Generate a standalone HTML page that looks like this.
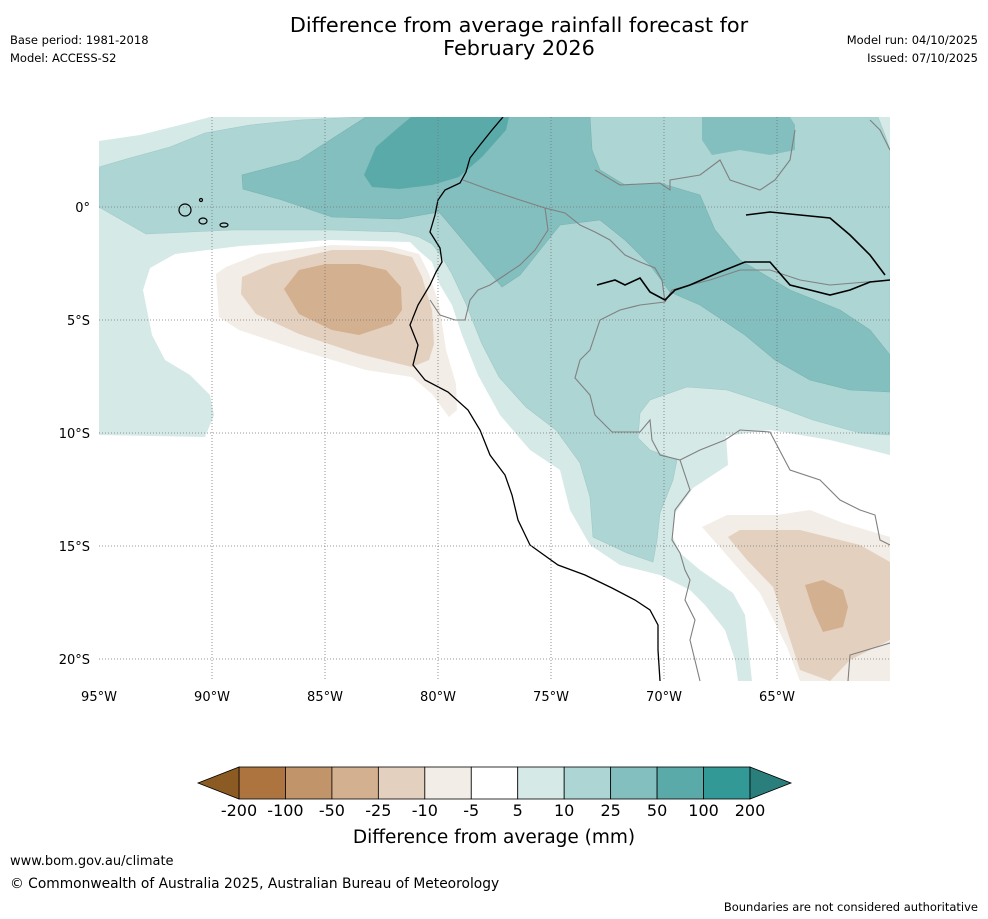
<!DOCTYPE html>
<html><head><meta charset="utf-8"><style>
body{margin:0;background:#fff;font-family:"DejaVu Sans",sans-serif;}
svg{display:block}
</style></head><body>
<svg width="988" height="919" viewBox="0 0 988 919" font-family="DejaVu Sans, sans-serif">
<text x="519" y="32" font-size="20.8" text-anchor="middle">Difference from average rainfall forecast for</text>
<text x="519" y="55" font-size="20.8" text-anchor="middle">February 2026</text>
<text x="10" y="44" font-size="11.5">Base period: 1981-2018</text>
<text x="10" y="62" font-size="11.5">Model: ACCESS-S2</text>
<text x="978" y="44" font-size="11.5" text-anchor="end">Model run: 04/10/2025</text>
<text x="978" y="62" font-size="11.5" text-anchor="end">Issued: 07/10/2025</text>

<defs><clipPath id="mc"><rect x="99" y="117" width="791" height="564"/></clipPath></defs>
<g clip-path="url(#mc)">
<rect x="99" y="117" width="791" height="564" fill="#d5e9e7"/>
<polygon fill="#ffffff" points="99,117 99,141 140,135 180,125 210,117"/>
<polygon fill="#ffffff" points="99,435 205,437 214,415 210,395 190,375 165,360 152,335 143,290 150,268 175,254 240,246 330,240 410,242 418,250 432,262 440,285 452,305 462,335 478,375 500,415 530,450 560,470 570,510 590,545 620,565 660,575 690,590 705,605 725,630 735,660 738,681 99,681"/>
<polygon fill="#ffffff" points="726,436 770,430 830,440 890,455 890,681 752,681 745,615 733,593 700,570 680,553 672,535 675,513 693,488 728,465"/>
<polygon fill="#acd5d4" stroke="#9fc9c8" stroke-width="0.6" points="99,167 130,158 170,147 205,133 250,125 300,120 360,117 878,117 885,135 890,150 890,435 860,433 813,420 767,403 727,390 687,387 650,400 640,413 638,438 650,450 677,460 673,480 660,513 657,540 653,562 627,553 593,537 590,497 580,463 556,430 526,407 499,377 482,344 466,304 452,274 442,257 432,244 419,237 399,232 332,230 232,230 146,234 99,207"/>
<polygon fill="#83bfbe" stroke="#78b3b2" stroke-width="0.6" points="243,189 242,175 299,160 366,117 590,117 592,150 600,170 625,185 660,183 700,195 715,230 740,260 790,290 840,310 870,330 890,355 890,392 850,390 810,380 775,360 745,335 715,315 700,305 670,292 650,265 625,240 600,220 560,225 540,250 520,275 502,287 446,220 439,212 399,219 332,217 282,200"/>
<polygon fill="#83bfbe" points="702,117 702,140 712,155 740,150 770,155 795,150 795,125 790,117"/>
<polygon fill="#5aaaa9" points="372,187 364,175 376,147 399,127 411,117 509,117 506,130 482,157 459,177 432,185 399,189"/>
<polygon fill="#f2ede6" points="216,274 219,317 239,330 299,350 366,370 412,377 432,394 449,417 457,410 456,384 446,350 439,304 429,274 419,254 392,247 332,245 259,254 226,267"/>
<polygon fill="#e4d0be" points="242,277 241,294 256,314 299,334 359,354 412,367 429,360 434,344 432,310 422,277 412,257 382,250 332,250 272,264"/>
<polygon fill="#d3b08f" points="284,289 299,314 332,330 359,335 392,324 402,310 401,287 386,270 359,264 326,264 299,270"/>
<polygon fill="#f2ede6" points="702,527 727,515 777,515 810,510 843,523 890,537 890,681 800,681 787,647 760,593"/>
<polygon fill="#e4d0be" points="728,537 740,530 800,530 860,545 890,562 890,640 850,660 830,681 800,670 787,630 773,587 747,560"/>
<polygon fill="#d3b08f" points="805,585 823,580 843,590 848,607 843,627 823,632 813,610"/>

<g fill="none" stroke="#808080" stroke-width="1.1">
<polyline points="463,180 490,190 520,200 545,208 565,213 580,225 595,232 610,240 625,255 640,262 655,268 662,280 665,302"/>
<polyline points="665,302 672,290 690,285 710,280 740,270 770,270 800,280 830,285 890,280"/>
<polyline points="545,208 548,230 535,250 520,265 505,275 490,285 478,290 470,300 465,320 455,320 440,315 430,300"/>
<polyline points="665,302 640,305 620,310 600,320 595,335 590,350 580,360 575,378 590,395 595,415 612,432 640,432 650,420 652,440 660,455 680,460 690,490 675,510 672,540 680,553 685,570 690,580 685,600 695,620 690,640 700,681"/>
<polyline points="680,460 700,450 725,440 740,430 770,432 790,470 820,480 840,500 860,510 875,515 880,540 890,545"/>
<polyline points="848,681 850,655 890,643"/>
<polyline points="890,150 880,130 870,120"/>
<polyline points="595,170 620,185 660,183 670,190 670,180 700,175 720,160 730,180 760,190 775,180 790,160 795,130"/>
</g>
<g fill="none" stroke="#000" stroke-width="1.3">
<polyline points="503,117 492,130 480,145 470,158 466,172 460,183 445,190 438,200 435,215 430,232 440,248 442,262 436,272 430,285 418,305 410,325 418,345 413,365 425,380 448,392 468,410 480,430 490,455 505,475 512,495 518,520 530,545 558,565 585,575 612,588 635,600 650,610 658,625 658,650 660,681"/>
</g>
<g fill="none" stroke="#000" stroke-width="1.6">
<polyline points="597,285 615,280 625,285 640,278 650,292 665,300 675,290 690,285 720,272 745,262 770,262 790,285 810,290 830,295 850,290 870,282 890,280"/>
<polyline points="746,215 770,212 800,215 830,218 850,235 870,255 885,275"/>
</g>
<g fill="none" stroke="#000" stroke-width="1.2">
<ellipse cx="185" cy="210" rx="6" ry="6"/><ellipse cx="203" cy="221" rx="4" ry="3"/><ellipse cx="224" cy="225" rx="4" ry="2"/><circle cx="201" cy="200" r="1.5"/>
</g>
<g stroke="#777" stroke-width="0.8" stroke-dasharray="1,2">
<line x1="212" y1="117" x2="212" y2="681"/><line x1="325" y1="117" x2="325" y2="681"/><line x1="438" y1="117" x2="438" y2="681"/><line x1="551" y1="117" x2="551" y2="681"/><line x1="664" y1="117" x2="664" y2="681"/><line x1="777" y1="117" x2="777" y2="681"/>
<line x1="99" y1="207" x2="890" y2="207"/><line x1="99" y1="320" x2="890" y2="320"/><line x1="99" y1="433" x2="890" y2="433"/><line x1="99" y1="546" x2="890" y2="546"/><line x1="99" y1="659" x2="890" y2="659"/>
</g>
</g>
<g font-size="13" text-anchor="end">
<text x="90" y="212">0°</text><text x="90" y="325">5°S</text><text x="90" y="438">10°S</text><text x="90" y="551">15°S</text><text x="90" y="664">20°S</text>
</g>
<g font-size="13" text-anchor="middle">
<text x="99" y="701">95°W</text><text x="212" y="701">90°W</text><text x="325" y="701">85°W</text><text x="438" y="701">80°W</text><text x="551" y="701">75°W</text><text x="664" y="701">70°W</text><text x="777" y="701">65°W</text>
</g>
<g id="cbar"></g>
<text x="494" y="843" font-size="18.5" text-anchor="middle">Difference from average (mm)</text>
<text x="10" y="865" font-size="13">www.bom.gov.au/climate</text>
<text x="10" y="888" font-size="13.8">© Commonwealth of Australia 2025, Australian Bureau of Meteorology</text>
<text x="978" y="911" font-size="11.5" text-anchor="end">Boundaries are not considered authoritative</text>
</svg>
<script>
const levelLabels = ["-200","-100","-50","-25","-10","-5","5","10","25","50","100","200"];
const binColors = ["#ae7440","#c19469","#d3b08f","#e4d0be","#f2ede6","#ffffff","#d5e9e7","#acd5d4","#83bfbe","#5aaaa9","#339996"];
const lowColor = "#8c5a23";
const highColor = "#2a7f7c";
(function(){
  const ns="http://www.w3.org/2000/svg";
  const g=document.getElementById('cbar');
  const x0=239,x1=750,y0=767,h=32;
  const w=(x1-x0)/binColors.length;
  binColors.forEach((c,i)=>{
    const r=document.createElementNS(ns,'rect');
    r.setAttribute('x',x0+i*w);r.setAttribute('y',y0);r.setAttribute('width',w);r.setAttribute('height',h);
    r.setAttribute('fill',c);r.setAttribute('stroke','#000');r.setAttribute('stroke-width','0.8');
    
    
    g.appendChild(r);
  });
  const lo=document.createElementNS(ns,'polygon');
  lo.setAttribute('points',`${x0},${y0} ${x0-41},${y0+h/2} ${x0},${y0+h}`);
  lo.setAttribute('fill',lowColor);lo.setAttribute('stroke','#000');lo.setAttribute('stroke-width','0.8');
  
  
  g.appendChild(lo);
  const hi=document.createElementNS(ns,'polygon');
  hi.setAttribute('points',`${x1},${y0} ${x1+41},${y0+h/2} ${x1},${y0+h}`);
  hi.setAttribute('fill',highColor);hi.setAttribute('stroke','#000');hi.setAttribute('stroke-width','0.8');
  
  
  g.appendChild(hi);
  levelLabels.forEach((l,i)=>{
    const t=document.createElementNS(ns,'text');
    t.setAttribute('x',x0+i*w);t.setAttribute('y',816);t.setAttribute('font-size','16');t.setAttribute('text-anchor','middle');
    t.textContent=l;
    
    
    g.appendChild(t);
  });
})();
</script>
</body></html>
